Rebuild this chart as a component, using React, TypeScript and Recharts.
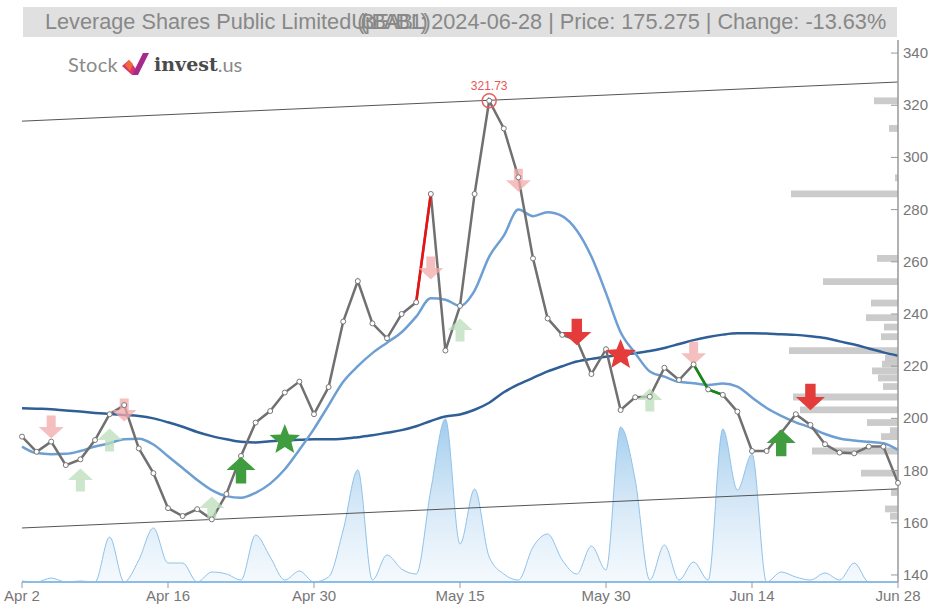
import React from "react";
import {
  ComposedChart,
  Line,
  Area,
  Scatter,
  XAxis,
  YAxis,
  ReferenceLine,
  ReferenceArea,
  ReferenceDot,
} from "recharts";

// x axis: one point per trading day, labels every 10 sessions
const xTickIdx = [0, 10, 20, 30, 40, 50, 60];
const xTickLabels = ["Apr 2", "Apr 16", "Apr 30", "May 15", "May 30", "Jun 14", "Jun 28"];
const priceTicks = [140, 160, 180, 200, 220, 240, 260, 280, 300, 320, 340];

// closing prices
const closes = [
  193.0, 187.2, 191.1, 182.1, 184.3, 191.7, 201.6, 205.1, 188.5, 179.0,
  165.6, 162.6, 165.2, 161.3, 171.0, 185.6, 198.4, 202.8, 209.9, 214.1,
  201.6, 212.0, 237.1, 252.6, 236.4, 230.7, 240.0, 244.5, 286.0, 226.0,
  243.1, 286.0, 321.73, 311.1, 292.4, 261.3, 238.3, 232.0, 230.0, 217.0,
  226.5, 203.2, 208.1, 208.3, 219.4, 214.7, 220.7, 211.1, 209.0, 202.6,
  187.5, 187.5, 194.5, 201.6, 197.5, 190.1, 186.9, 186.6, 189.2, 189.2,
  175.275,
];

// short moving average
const maShort = [
  189.2, 186.7, 186.3, 186.4, 187.5, 189.2, 190.5, 192.0, 192.2, 190.0,
  185.5, 181.0, 176.4, 172.5, 170.2, 169.6, 171.5, 175.0, 180.5, 188.0,
  196.0, 205.0, 214.0, 220.0, 225.0, 229.0, 233.0, 239.0, 246.0, 245.5,
  243.1, 249.0, 262.0, 270.0, 280.0, 277.5, 279.0, 277.5, 272.0, 262.0,
  248.0, 233.0, 225.0, 218.0, 216.0, 214.0, 213.5, 212.8, 213.4, 212.2,
  208.0, 204.0, 201.0, 198.5, 196.5, 194.0, 192.3, 191.5, 191.0, 190.5,
  187.9,
];

// long moving average
const maLong = [
  203.9, 203.7, 203.5, 203.0, 202.6, 202.1, 201.7, 201.3, 200.9, 200.0,
  198.5, 196.8, 194.8, 193.2, 192.0, 191.0, 190.8, 191.2, 191.5, 191.8,
  192.0, 192.0, 192.2, 192.8, 193.5, 194.5, 195.5, 197.0, 199.0, 200.7,
  201.5, 203.3, 206.0, 210.0, 213.0, 215.5, 218.0, 220.0, 221.8, 222.8,
  223.6, 224.3, 225.0, 225.8, 227.0, 228.5, 230.0, 231.2, 232.1, 232.6,
  232.6, 232.5, 232.2, 232.0, 231.5, 230.8, 229.5, 228.3, 226.8, 225.3,
  224.0,
];

// daily volume (thousands)
const volumes = [
  1, 0, 4, 0, 1, 0, 45, 0, 22, 54,
  19, 19, 0, 10, 8, 2, 47, 25, 2, 11,
  0, 5, 52, 112, 2, 27, 13, 8, 92, 163,
  38, 93, 25, 8, 2, 35, 48, 22, 8, 36,
  12, 155, 102, 2, 37, 2, 20, 2, 153, 92,
  128, 0, 10, 5, 2, 9, 2, 19, 0, 0,
  0,
];

// highlighted runs of the price line
const redRun = [27, 28];
const greenRun = [46, 47, 48];

// trend channel, value at first and last session
const trendUpper = [313.9, 328.9];
const trendLower = [158.0, 173.0];

// volume profile: price level and traded volume
const profilePrices = [
  321.7, 311.1, 292.2, 286.0, 261.3, 252.4, 244.2, 238.6, 235.0, 231.3,
  226.0, 223.0, 220.8, 218.2, 215.5, 212.2, 208.2, 203.3, 198.4, 195.3,
  193.0, 187.5, 179.0, 171.6, 165.3, 162.5,
];
const profileVolumes = [
  24, 9, 3, 107, 21, 75, 27, 32, 14, 17,
  109, 13, 16, 26, 20, 15, 105, 98, 31, 8,
  17, 86, 37, 7, 13, 8,
];

// signals: session index and price where the marker sits
const weakSell = [
  { i: 2, v: 196.7 },
  { i: 7, v: 203.2 },
  { i: 28, v: 257.6 },
  { i: 34, v: 291.3 },
  { i: 46, v: 225.0 },
];
const weakBuy = [
  { i: 4, v: 176.4 },
  { i: 6, v: 191.7 },
  { i: 13, v: 165.7 },
  { i: 30, v: 233.9 },
  { i: 43, v: 207.0 },
];
const strongSell = [
  { i: 38, v: 233.1 },
  { i: 54, v: 208.2 },
];
const strongBuy = [
  { i: 15, v: 180.2 },
  { i: 52, v: 190.6 },
];
const buyStars = [{ i: 18, v: 191.7 }];
const sellStars = [{ i: 41, v: 224.3 }];

const peakIdx = 32;
const peakValue = 321.73;

const data = closes.map((c, i) => ({
  i,
  price: c,
  maShort: maShort[i],
  maLong: maLong[i],
  vol: volumes[i],
  red: redRun.includes(i) ? c : null,
  green: greenRun.includes(i) ? c : null,
}));

const arrowShape = (dir: "up" | "down", color: string, size: number, opacity = 1) => (props: any) => {
  const { cx, cy } = props;
  const w = size;
  const h = size * 0.92;
  const sw = size * 0.36;
  const s = dir === "down" ? 1 : -1;
  const pts = [
    [cx - sw / 2, cy - (s * h) / 2],
    [cx + sw / 2, cy - (s * h) / 2],
    [cx + sw / 2, cy],
    [cx + w / 2, cy],
    [cx, cy + (s * h) / 2],
    [cx - w / 2, cy],
    [cx - sw / 2, cy],
  ];
  return <polygon points={pts.map((p) => p.join(",")).join(" ")} fill={color} fillOpacity={opacity} />;
};

const starShape = (color: string) => (props: any) => {
  const { cx, cy } = props;
  const pts: string[] = [];
  for (let k = 0; k < 10; k++) {
    const r = k % 2 === 0 ? 16 : 7;
    const a = -Math.PI / 2 + (k * Math.PI) / 5;
    pts.push(`${cx + r * Math.cos(a)},${cy + r * Math.sin(a)}`);
  }
  return <polygon points={pts.join(" ")} fill={color} />;
};

const PriceTick = (props: any) => {
  const { x, y, payload } = props;
  return (
    <g>
      <line x1={x - 7} x2={x} y1={y} y2={y} stroke="#999" />
      <text x={x + 5} y={y} dy={5} fill="#777" fontSize={15}>
        {payload.value}
      </text>
    </g>
  );
};

function Logo() {
  return (
    <div style={{ position: "absolute", left: 68, top: 52, display: "flex", alignItems: "center", fontSize: 20 }}>
      <span style={{ color: "#8a8a8a", fontFamily: "Lato", letterSpacing: 0.3 }}>Stock</span>
      <svg width={30} height={24} style={{ margin: "0 3px" }}>
        <polygon points="1,14 8,8 15,17 11,23" fill="#d9366f" />
        <polygon points="11,23 22,1 28,1 17,23" fill="#a62a8c" />
        <polygon points="8,8 12,12 9,19 4,13" fill="#f26a3a" />
      </svg>
      <span style={{ color: "#4a4a4a", fontFamily: "DejaVu Serif", fontWeight: 700, fontSize: 19 }}>invest</span>
      <span style={{ color: "#8a8a8a", fontFamily: "Lato" }}>.us</span>
    </div>
  );
}

function Title() {
  return (
    <div
      style={{
        position: "absolute",
        left: 23,
        top: 7,
        width: 874,
        height: 30,
        background: "#e0e0e0",
        color: "#888",
        fontSize: 21.7,
        lineHeight: "30px",
        paddingLeft: 22,
        boxSizing: "border-box",
        whiteSpace: "nowrap",
      }}
    >
      Leverage Shares Public Limited
      <span style={{ position: "relative", display: "inline-block", width: 80 }}>
        <span>U</span>
        <span style={{ position: "absolute", left: 6, top: 0, letterSpacing: -2.5 }}>(3BAB.L)</span>
        <span style={{ position: "absolute", left: 9, top: 0, letterSpacing: -2.5 }}>(pEAB1:)</span>
      </span>
      2024-06-28 | Price: 175.275 | Change: -13.63%
    </div>
  );
}

export default function App() {
  return (
    <div
      style={{
        position: "absolute",
        left: 0,
        top: 0,
        width: 928,
        height: 608,
        background: "#fff",
        fontFamily: "'Liberation Sans', Arial, sans-serif",
      }}
    >
      <ComposedChart width={928} height={608} data={data} margin={{ top: 40, right: 0, bottom: 0, left: 22 }}>
        <defs>
          <linearGradient id="volGrad" x1="0" y1="0" x2="0" y2="1">
            <stop offset="0%" stopColor="#5aa5df" stopOpacity={0.95} />
            <stop offset="100%" stopColor="#dcebf8" stopOpacity={0.5} />
          </linearGradient>
        </defs>
        <XAxis
          xAxisId="main"
          dataKey="i"
          type="number"
          domain={[0, 60]}
          ticks={xTickIdx}
          tickFormatter={(v: number) => xTickLabels[xTickIdx.indexOf(v)]}
          height={26}
          tickSize={6}
          tick={{ fill: "#777", fontSize: 15 }}
          tickLine={{ stroke: "#999" }}
          axisLine={{ stroke: "#8cbde6", strokeWidth: 2 }}
        />
        <XAxis xAxisId="vp" dataKey="vpx" type="number" domain={[0, 876]} reversed hide allowDataOverflow />
        <YAxis
          yAxisId="price"
          orientation="right"
          type="number"
          domain={[137.3, 345]}
          allowDataOverflow
          ticks={priceTicks}
          width={30}
          tickSize={0}
          tickMargin={0}
          tickLine={false}
          tick={<PriceTick />}
          axisLine={{ stroke: "#999", strokeWidth: 1.5 }}
        />
        <YAxis yAxisId="vol" type="number" domain={[0, 542]} hide allowDataOverflow />

        {profilePrices.map((p, k) => (
          <ReferenceArea
            key={`vp-${k}`}
            xAxisId="vp"
            yAxisId="price"
            x1={0}
            x2={profileVolumes[k]}
            y1={p - 1.3}
            y2={p + 1.3}
            fill="#c8c8c8"
            fillOpacity={0.95}
            stroke="none"
          />
        ))}

        <Area
          xAxisId="main"
          yAxisId="vol"
          dataKey="vol"
          type="monotone"
          stroke="#8fc2ea"
          strokeWidth={1}
          fill="url(#volGrad)"
          isAnimationActive={false}
        />

        <ReferenceLine
          xAxisId="main"
          yAxisId="price"
          segment={[{ x: 0, y: trendUpper[0] }, { x: 60, y: trendUpper[1] }]}
          stroke="#555"
          strokeWidth={1}
        />
        <ReferenceLine
          xAxisId="main"
          yAxisId="price"
          segment={[{ x: 0, y: trendLower[0] }, { x: 60, y: trendLower[1] }]}
          stroke="#555"
          strokeWidth={1}
        />

        <Scatter xAxisId="main" yAxisId="price" data={weakSell} dataKey="v" shape={arrowShape("down", "#f3a9a9", 25, 0.75)} isAnimationActive={false} />
        <Scatter xAxisId="main" yAxisId="price" data={weakBuy} dataKey="v" shape={arrowShape("up", "#b9deb9", 25, 0.75)} isAnimationActive={false} />

        <Line xAxisId="main" yAxisId="price" dataKey="maLong" type="monotone" stroke="#2f5f97" strokeWidth={2.5} dot={false} isAnimationActive={false} />
        <Line xAxisId="main" yAxisId="price" dataKey="maShort" type="monotone" stroke="#6d9fd2" strokeWidth={2.5} dot={false} isAnimationActive={false} />
        <Line
          xAxisId="main"
          yAxisId="price"
          dataKey="price"
          type="linear"
          stroke="#707070"
          strokeWidth={2.5}
          dot={{ r: 2.5, fill: "#fff", stroke: "#777", strokeWidth: 1 }}
          isAnimationActive={false}
        />
        <Line xAxisId="main" yAxisId="price" dataKey="red" type="linear" stroke="#ee1111" strokeWidth={2.5} dot={false} connectNulls={false} isAnimationActive={false} />
        <Line xAxisId="main" yAxisId="price" dataKey="green" type="linear" stroke="#128a12" strokeWidth={2.5} dot={false} connectNulls={false} isAnimationActive={false} />

        <ReferenceDot
          xAxisId="main"
          yAxisId="price"
          x={peakIdx}
          y={peakValue}
          r={7}
          fill="none"
          stroke="#e86060"
          strokeWidth={1.5}
          label={{ value: String(peakValue), position: "top", fill: "#e85555", fontSize: 12, offset: 4 }}
        />

        <Scatter xAxisId="main" yAxisId="price" data={strongSell} dataKey="v" shape={arrowShape("down", "#e43b3b", 29)} isAnimationActive={false} />
        <Scatter xAxisId="main" yAxisId="price" data={strongBuy} dataKey="v" shape={arrowShape("up", "#3f9c3f", 29)} isAnimationActive={false} />
        <Scatter xAxisId="main" yAxisId="price" data={buyStars} dataKey="v" shape={starShape("#3f9c3f")} isAnimationActive={false} />
        <Scatter xAxisId="main" yAxisId="price" data={sellStars} dataKey="v" shape={starShape("#e43b3b")} isAnimationActive={false} />
      </ComposedChart>
      <Title />
      <Logo />
    </div>
  );
}
